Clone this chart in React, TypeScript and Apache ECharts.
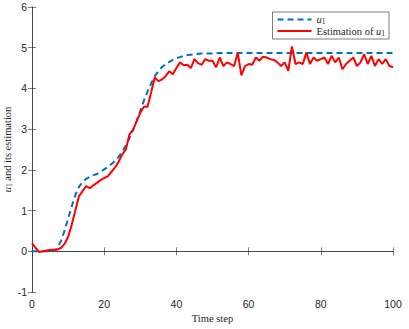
import React, { useEffect, useRef } from "react";
import * as echarts from "echarts";

const timeSteps: number[] = Array.from({ length: 101 }, (_, i) => i);

const u1Values: number[] = [
  0, 0, 0, 0, 0, 0, 0, 0.08, 0.25, 0.5,
  0.8, 1.1, 1.38, 1.58, 1.7, 1.78, 1.83, 1.87, 1.9, 1.95,
  2.01, 2.07, 2.14, 2.22, 2.32, 2.45, 2.6, 2.78, 2.98, 3.2,
  3.45, 3.7, 3.92, 4.12, 4.3, 4.42, 4.52, 4.6, 4.65, 4.7,
  4.74, 4.77, 4.8, 4.82, 4.83, 4.84, 4.85, 4.86, 4.86, 4.86,
  4.86, 4.86, 4.87, 4.87, 4.87, 4.87, 4.87, 4.87, 4.87, 4.87,
  4.87, 4.87, 4.87, 4.87, 4.87, 4.87, 4.87, 4.87, 4.87, 4.87,
  4.87, 4.87, 4.87, 4.87, 4.87, 4.87, 4.87, 4.87, 4.87, 4.87,
  4.87, 4.87, 4.87, 4.87, 4.87, 4.87, 4.87, 4.87, 4.87, 4.87,
  4.87, 4.87, 4.87, 4.87, 4.87, 4.87, 4.87, 4.87, 4.87, 4.87,
  4.87,
];

const estimationValues: number[] = [
  0.2, 0.08, -0.02, 0.0, 0.02, 0.03, 0.04, 0.04, 0.08, 0.18,
  0.35, 0.65, 1.0, 1.35, 1.48, 1.6, 1.55, 1.62, 1.68, 1.75,
  1.8, 1.84, 1.95, 2.06, 2.2, 2.38, 2.5, 2.87, 2.98, 3.2,
  3.4, 3.55, 3.55, 3.9, 4.27, 4.18, 4.22, 4.3, 4.42, 4.35,
  4.5, 4.64, 4.57, 4.58, 4.5, 4.72, 4.62, 4.58, 4.72, 4.68,
  4.68, 4.52, 4.76, 4.55, 4.64, 4.6, 4.55, 4.88, 4.32, 4.55,
  4.6, 4.58, 4.76, 4.68, 4.78, 4.76, 4.72, 4.7, 4.64, 4.55,
  4.64, 4.43, 5.03, 4.6, 4.64, 4.6, 4.88, 4.6, 4.76, 4.68,
  4.72, 4.76, 4.6, 4.8, 4.64, 4.76, 4.47, 4.6, 4.68, 4.76,
  4.55, 4.64, 4.84, 4.6, 4.8, 4.55, 4.72, 4.6, 4.72, 4.55,
  4.52,
];

const xTicks = { min: 0, max: 100, interval: 20 };
const yTicks = { min: -1, max: 6, interval: 1 };

const seriesNames = ["u1", "Estimation of u1"];

const axisColor = "#262626";
const serif = "'Liberation Serif', 'DejaVu Serif', serif";
const sans = "'Liberation Sans', Arial, sans-serif";

export default function App() {
  const ref = useRef<HTMLDivElement>(null);

  useEffect(() => {
    if (!ref.current) return;
    const chart = echarts.init(ref.current, undefined, { renderer: "svg" });
    const richSub = {
      i: { fontFamily: serif, fontStyle: "italic", fontSize: 10.5, color: axisColor },
      sub: { fontFamily: serif, fontSize: 7.5, color: axisColor, padding: [4, 0, 0, 0] },
      t: { fontFamily: serif, fontSize: 10.5, color: axisColor },
    };
    const tickAxisCommon = {
      axisLine: { show: true, lineStyle: { color: axisColor, width: 0.6 } },
      axisTick: { show: true, inside: true, length: 4, lineStyle: { color: axisColor, width: 0.6 } },
      splitLine: { show: false },
    };
    chart.setOption({
      animation: false,
      backgroundColor: "#fff",
      grid: { left: 32, right: 16, top: 7, bottom: 37, containLabel: false, outerBoundsMode: "none" },
      legend: {
        orient: "vertical",
        right: 20,
        top: 12,
        data: seriesNames,
        backgroundColor: "#fff",
        borderColor: axisColor,
        borderWidth: 0.6,
        padding: [2, 4, 2, 4],
        itemGap: 0,
        itemWidth: 34,
        itemHeight: 12,
        itemStyle: { opacity: 0, borderWidth: 0 },
        formatter: (name: string) =>
          name === "u1" ? "{i|u}{sub|1}" : "{t|Estimation of }{i|u}{sub|1}",
        textStyle: { rich: richSub, fontFamily: serif, fontSize: 10.5, color: axisColor },
      },
      xAxis: [
        {
          type: "value",
          min: xTicks.min,
          max: xTicks.max,
          interval: xTicks.interval,
          position: "bottom",
          name: "Time step",
          nameLocation: "middle",
          nameGap: 21,
          nameMoveOverlap: false,
          nameTextStyle: { fontFamily: serif, fontSize: 10.5, color: axisColor },
          axisLabel: { fontFamily: sans, fontSize: 10.5, color: axisColor, margin: 6 },
          ...tickAxisCommon,
        },
        {
          type: "value",
          min: xTicks.min,
          max: xTicks.max,
          interval: xTicks.interval,
          position: "top",
          axisLabel: { show: false },
          ...tickAxisCommon,
        },
      ],
      yAxis: [
        {
          type: "value",
          min: yTicks.min,
          max: yTicks.max,
          interval: yTicks.interval,
          position: "left",
          name: "{i|u}{sub|1}{t| and its estimation}",
          nameLocation: "middle",
          nameGap: 19,
          nameMoveOverlap: false,
          nameRotate: 90,
          nameTextStyle: { rich: richSub, fontFamily: serif, fontSize: 10.5, color: axisColor },
          axisLabel: { fontFamily: sans, fontSize: 10.5, color: axisColor, margin: 5 },
          ...tickAxisCommon,
        },
        {
          type: "value",
          min: yTicks.min,
          max: yTicks.max,
          interval: yTicks.interval,
          position: "right",
          axisLabel: { show: false },
          ...tickAxisCommon,
        },
      ],
      series: [
        {
          name: seriesNames[0],
          type: "line",
          xAxisIndex: 0,
          yAxisIndex: 0,
          data: timeSteps.map((t, i) => [t, u1Values[i]]),
          showSymbol: false,
          symbol: "none",
          lineStyle: { color: "#0072BD", width: 2, type: [6, 4] },
          itemStyle: { color: "#0072BD" },
          z: 2,
        },
        {
          name: seriesNames[1],
          type: "line",
          xAxisIndex: 0,
          yAxisIndex: 0,
          data: timeSteps.map((t, i) => [t, estimationValues[i]]),
          showSymbol: false,
          symbol: "none",
          lineStyle: { color: "#FF0000", width: 2 },
          itemStyle: { color: "#FF0000" },
          z: 3,
        },
      ],
    });
    return () => chart.dispose();
  }, []);

  return <div ref={ref} style={{ width: 409, height: 329, position: "absolute", left: 0, top: 0 }} />;
}
